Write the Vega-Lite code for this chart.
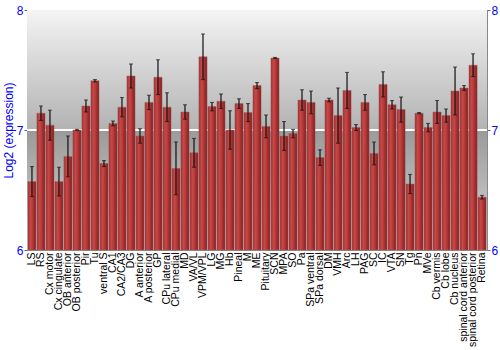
{
  "$schema": "https://vega.github.io/schema/vega-lite/v6.json",
  "autosize": "none",
  "width": 460,
  "height": 240,
  "padding": {"left": 27, "top": 10, "right": 13, "bottom": 100},
  "config": {"font": "Liberation Sans", "view": {"stroke": "#888888", "strokeWidth": 1}},
  "data": {"values": [
    {"r": "LS", "v": 6.57, "e": 0.125},
    {"r": "RS", "v": 7.14, "e": 0.06},
    {"r": "Cx motor", "v": 7.04, "e": 0.125},
    {"r": "Cx cingulate", "v": 6.57, "e": 0.12},
    {"r": "OB anterior", "v": 6.78, "e": 0.17},
    {"r": "OB posterior", "v": 7.0, "e": 0.005},
    {"r": "Pir", "v": 7.2, "e": 0.05},
    {"r": "Tu", "v": 7.41, "e": 0.01},
    {"r": "ventral S", "v": 6.72, "e": 0.025},
    {"r": "CA1", "v": 7.055, "e": 0.02},
    {"r": "CA2/CA3", "v": 7.19, "e": 0.08},
    {"r": "DG", "v": 7.45, "e": 0.1},
    {"r": "A anterior", "v": 6.95, "e": 0.06},
    {"r": "A posterior", "v": 7.23, "e": 0.06},
    {"r": "GP", "v": 7.44, "e": 0.145},
    {"r": "CPu lateral", "v": 7.19, "e": 0.12},
    {"r": "CPu medial", "v": 6.68, "e": 0.22},
    {"r": "MD", "v": 7.15, "e": 0.06},
    {"r": "VA/VL", "v": 6.81, "e": 0.12},
    {"r": "VPM/VPL", "v": 7.61, "e": 0.19},
    {"r": "LG", "v": 7.195, "e": 0.035},
    {"r": "MG", "v": 7.24, "e": 0.06},
    {"r": "Hb", "v": 7.0, "e": 0.16},
    {"r": "Pineal", "v": 7.22, "e": 0.04},
    {"r": "M", "v": 7.145, "e": 0.075},
    {"r": "ME", "v": 7.37, "e": 0.025},
    {"r": "Pituitary", "v": 7.03, "e": 0.095},
    {"r": "SCN", "v": 7.6, "e": 0.005},
    {"r": "MPA", "v": 6.95, "e": 0.12},
    {"r": "SO", "v": 6.97, "e": 0.035},
    {"r": "Pa", "v": 7.25, "e": 0.085},
    {"r": "SPa ventral", "v": 7.23, "e": 0.095},
    {"r": "SPa dorsal", "v": 6.77, "e": 0.065},
    {"r": "DM", "v": 7.25, "e": 0.015},
    {"r": "VMH", "v": 7.12, "e": 0.23},
    {"r": "Arc", "v": 7.33, "e": 0.15},
    {"r": "LH", "v": 7.02, "e": 0.025},
    {"r": "PAG", "v": 7.23, "e": 0.065},
    {"r": "SC", "v": 6.805, "e": 0.095},
    {"r": "IC", "v": 7.38, "e": 0.105},
    {"r": "VTA", "v": 7.21, "e": 0.035},
    {"r": "SN", "v": 7.17, "e": 0.105},
    {"r": "Tg", "v": 6.55, "e": 0.08},
    {"r": "Pn", "v": 7.14, "e": 0.005},
    {"r": "MVe", "v": 7.02, "e": 0.035},
    {"r": "Cb vermis", "v": 7.15, "e": 0.095},
    {"r": "Cb lobe", "v": 7.12, "e": 0.055},
    {"r": "Cb nucleus", "v": 7.325, "e": 0.2},
    {"r": "spinal cord anterior", "v": 7.35, "e": 0.02},
    {"r": "spinal cord posterior", "v": 7.54, "e": 0.095},
    {"r": "Retina", "v": 6.44, "e": 0.015}
  ]},
  "layer": [
    {
      "mark": {"type": "rect", "fill": {"gradient": "linear", "x1": 0, "y1": 0, "x2": 0, "y2": 1, "stops": [{"offset": 0, "color": "#f4f4f4"}, {"offset": 1, "color": "#b2b2b2"}]}},
      "encoding": {"y": {"datum": 8, "type": "quantitative", "scale": {"domain": [6, 8]}, "axis": null}, "y2": {"datum": 7}}
    },
    {
      "mark": {"type": "rect", "fill": {"gradient": "linear", "x1": 0, "y1": 0, "x2": 0, "y2": 1, "stops": [{"offset": 0, "color": "#9a9a9a"}, {"offset": 1, "color": "#d6d6d6"}]}},
      "encoding": {"y": {"datum": 7, "type": "quantitative", "axis": null}, "y2": {"datum": 6}}
    },
    {
      "mark": {"type": "rule", "color": "#ffffff", "strokeWidth": 1.5},
      "encoding": {"y": {"datum": 7, "type": "quantitative", "axis": null}}
    },
    {
      "mark": {"type": "bar", "fill": {"gradient": "linear", "x1": 0, "y1": 0, "x2": 1, "y2": 0, "stops": [{"offset": 0, "color": "#9c2c2c"}, {"offset": 0.3, "color": "#c84848"}, {"offset": 0.6, "color": "#b43838"}, {"offset": 1, "color": "#7c1c1c"}]}, "stroke": "#a06060", "strokeWidth": 0.5},
      "encoding": {
        "x": {"field": "r", "type": "nominal", "sort": null, "scale": {"paddingInner": 0.1, "paddingOuter": 0.1}, "axis": {"title": null, "labelAngle": -90, "labelFontSize": 10.5, "labelColor": "#000000", "ticks": false, "domain": false, "labelPadding": 2}},
        "y": {"field": "v", "type": "quantitative", "scale": {"domain": [6, 8], "clamp": true}, "axis": {"title": "Log2 (expression)", "titleColor": "#0000ff", "titleFontSize": 12, "titleFontWeight": "normal", "titlePadding": 1, "values": [6, 7, 8], "format": ".0f", "labelOverlap": false, "labelColor": "#0000ff", "labelFontSize": 12, "labelPadding": 1, "tickSize": 3, "tickColor": "#666666", "domainColor": "#888888", "grid": false, "orient": "left"}}
      }
    },
    {
      "mark": {"type": "errorbar", "ticks": {"size": 4, "color": "#111111", "thickness": 1}, "rule": {"color": "#111111", "strokeWidth": 1.2}},
      "encoding": {
        "x": {"field": "r", "type": "nominal", "sort": null},
        "y": {"field": "v", "type": "quantitative", "axis": {"title": null, "orient": "right", "values": [6, 7, 8], "format": ".0f", "labelOverlap": false, "labelColor": "#0000ff", "labelFontSize": 12, "labelPadding": 1, "tickSize": 3, "tickColor": "#666666", "domainColor": "#888888", "grid": false}},
        "yError": {"field": "e"}
      }
    }
  ],
  "resolve": {"axis": {"y": "independent"}}
}
